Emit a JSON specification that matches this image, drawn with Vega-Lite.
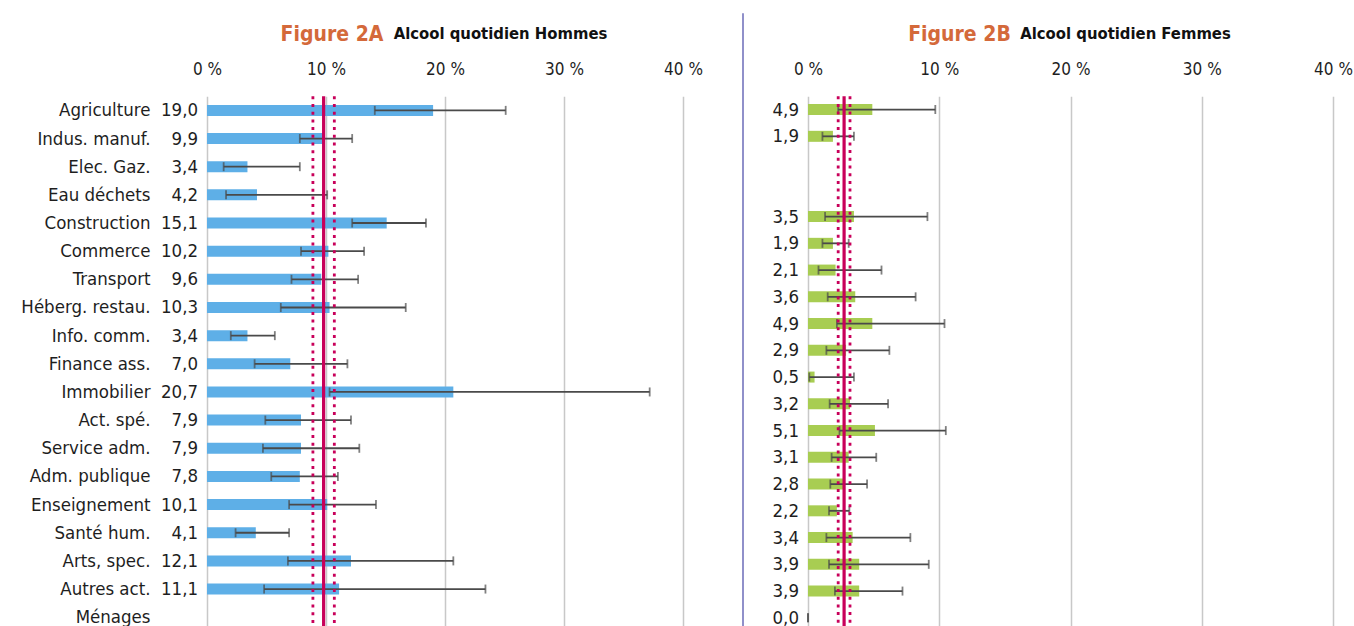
{
  "$schema": "https://vega.github.io/schema/vega-lite/v6.json",
  "background": "white",
  "padding": {"left": 20, "top": 12, "right": 0, "bottom": 0},
  "config": {
    "locale": {"number": {"decimal": ",", "thousands": " ", "grouping": [3], "currency": ["", " €"]}},
    "view": {"stroke": null},
    "font": "DejaVu Sans Condensed"
  },
  "datasets": {
    "hommes": [
      {"secteur": "Agriculture", "val": 19.0, "lo": 14.1, "hi": 25.1},
      {"secteur": "Indus. manuf.", "val": 9.9, "lo": 7.8, "hi": 12.2},
      {"secteur": "Elec. Gaz.", "val": 3.4, "lo": 1.4, "hi": 7.8},
      {"secteur": "Eau déchets", "val": 4.2, "lo": 1.6, "hi": 10.1},
      {"secteur": "Construction", "val": 15.1, "lo": 12.2, "hi": 18.4},
      {"secteur": "Commerce", "val": 10.2, "lo": 7.9, "hi": 13.2},
      {"secteur": "Transport", "val": 9.6, "lo": 7.1, "hi": 12.7},
      {"secteur": "Héberg. restau.", "val": 10.3, "lo": 6.2, "hi": 16.7},
      {"secteur": "Info. comm.", "val": 3.4, "lo": 2.0, "hi": 5.7},
      {"secteur": "Finance ass.", "val": 7.0, "lo": 4.0, "hi": 11.8},
      {"secteur": "Immobilier", "val": 20.7, "lo": 10.3, "hi": 37.2},
      {"secteur": "Act. spé.", "val": 7.9, "lo": 4.9, "hi": 12.1},
      {"secteur": "Service adm.", "val": 7.9, "lo": 4.7, "hi": 12.8},
      {"secteur": "Adm. publique", "val": 7.8, "lo": 5.4, "hi": 11.0},
      {"secteur": "Enseignement", "val": 10.1, "lo": 6.9, "hi": 14.2},
      {"secteur": "Santé hum.", "val": 4.1, "lo": 2.4, "hi": 6.9},
      {"secteur": "Arts, spec.", "val": 12.1, "lo": 6.8, "hi": 20.7},
      {"secteur": "Autres act.", "val": 11.1, "lo": 4.8, "hi": 23.4},
      {"secteur": "Ménages", "val": null, "lo": null, "hi": null}
    ],
    "femmes": [
      {"rang": 1, "val": 4.9, "lo": 2.3, "hi": 9.7},
      {"rang": 2, "val": 1.9, "lo": 1.1, "hi": 3.5},
      {"rang": 3, "val": null, "lo": null, "hi": null},
      {"rang": 4, "val": null, "lo": null, "hi": null},
      {"rang": 5, "val": 3.5, "lo": 1.3, "hi": 9.1},
      {"rang": 6, "val": 1.9, "lo": 1.1, "hi": 3.1},
      {"rang": 7, "val": 2.1, "lo": 0.8, "hi": 5.6},
      {"rang": 8, "val": 3.6, "lo": 1.5, "hi": 8.2},
      {"rang": 9, "val": 4.9, "lo": 2.2, "hi": 10.4},
      {"rang": 10, "val": 2.9, "lo": 1.4, "hi": 6.2},
      {"rang": 11, "val": 0.5, "lo": 0.1, "hi": 3.5},
      {"rang": 12, "val": 3.2, "lo": 1.65, "hi": 6.1},
      {"rang": 13, "val": 5.1, "lo": 2.4, "hi": 10.5},
      {"rang": 14, "val": 3.1, "lo": 1.8, "hi": 5.2},
      {"rang": 15, "val": 2.8, "lo": 1.7, "hi": 4.5},
      {"rang": 16, "val": 2.2, "lo": 1.6, "hi": 3.15},
      {"rang": 17, "val": 3.4, "lo": 1.4, "hi": 7.8},
      {"rang": 18, "val": 3.9, "lo": 1.6, "hi": 9.2},
      {"rang": 19, "val": 3.9, "lo": 2.05, "hi": 7.2},
      {"rang": 20, "val": 0.0, "lo": 0.0, "hi": 0.0}
    ],
    "ref_hommes": [
      {"type": "moyenne", "v": 9.8},
      {"type": "ic", "v": 8.9},
      {"type": "ic", "v": 10.7}
    ],
    "ref_femmes": [
      {"type": "moyenne", "v": 2.75},
      {"type": "ic", "v": 2.3},
      {"type": "ic", "v": 3.2}
    ],
    "sep": [{"k": 0}]
  },
  "spacing": 28,
  "center": true,
  "hconcat": [
    {
      "spacing": 39,
      "center": true,
      "hconcat": [
        {
          "vconcat": [
            {
              "width": 476,
              "height": 535,
              "title": {"text": "Figure 2A", "color": "#d4693a", "fontSize": 21, "fontWeight": "bold", "anchor": "middle", "frame": "group", "dx": -113, "dy": 20, "offset": 0},
              "layer": [
                {
                  "data": {"name": "hommes"},
                  "transform": [{"filter": "isValid(datum.val)"}],
                  "mark": {"type": "bar", "color": "#5eafe7", "size": 11},
                  "encoding": {
                    "y": {"field": "secteur", "type": "nominal", "sort": null,
                      "scale": {"domain": ["Agriculture", "Indus. manuf.", "Elec. Gaz.", "Eau déchets", "Construction", "Commerce", "Transport", "Héberg. restau.", "Info. comm.", "Finance ass.", "Immobilier", "Act. spé.", "Service adm.", "Adm. publique", "Enseignement", "Santé hum.", "Arts, spec.", "Autres act.", "Ménages"], "paddingInner": 0, "paddingOuter": 0},
                      "axis": {"orient": "left", "title": null, "domain": false, "ticks": false, "grid": false, "labelFontSize": 18.5, "labelColor": "#1e1e1e", "labelPadding": 57}},
                    "x": {"field": "val", "type": "quantitative", "title": "Alcool quotidien Hommes",
                      "scale": {"domain": [0, 40], "nice": false},
                      "axis": {"orient": "top", "values": [0, 10, 20, 30, 40], "labelExpr": "datum.value + ' %'", "labelFlush": false, "domain": false, "ticks": false, "grid": true, "gridColor": "#c8c8c8", "gridWidth": 1.5, "labelFontSize": 17, "labelColor": "#1e1e1e", "labelPadding": 18, "titleFontSize": 16.5, "titleFontWeight": "bold", "titleColor": "#111111", "titleX": 293, "titleY": -58, "titleAlign": "center", "titleBaseline": "alphabetic"}}
                  }
                },
                {
                  "data": {"name": "hommes"},
                  "transform": [{"filter": "isValid(datum.lo)"}],
                  "mark": {"type": "errorbar", "ticks": true, "color": "#4a4a4a", "thickness": 1.8, "size": 9},
                  "encoding": {
                    "y": {"field": "secteur", "type": "nominal", "sort": null},
                    "x": {"field": "lo", "type": "quantitative", "title": "Alcool quotidien Hommes"},
                    "x2": {"field": "hi"}
                  }
                },
                {
                  "data": {"name": "ref_hommes"},
                  "mark": {"type": "rule", "color": "#c8005a", "strokeCap": "butt"},
                  "encoding": {
                    "x": {"field": "v", "type": "quantitative", "title": "Alcool quotidien Hommes"},
                    "strokeDash": {"field": "type", "type": "nominal", "scale": {"domain": ["moyenne", "ic"], "range": [[1, 0], [3, 4.7]]}, "legend": null},
                    "strokeWidth": {"field": "type", "type": "nominal", "scale": {"domain": ["moyenne", "ic"], "range": [3.2, 2.8]}, "legend": null}
                  }
                },
                {
                  "data": {"name": "hommes"},
                  "transform": [{"filter": "isValid(datum.val)"}],
                  "mark": {"type": "text", "align": "right", "baseline": "middle", "dx": -9, "fontSize": 18.5, "color": "#1e1e1e"},
                  "encoding": {
                    "y": {"field": "secteur", "type": "nominal", "sort": null},
                    "x": {"datum": 0},
                    "text": {"field": "val", "type": "quantitative", "format": ".1f"}
                  }
                }
              ]
            }
          ]
        },
        {
          "width": 1,
          "height": 702,
          "data": {"name": "sep"},
          "mark": {"type": "rule", "color": "#4646a6", "strokeWidth": 1.2},
          "encoding": {
            "x": {"field": "k", "type": "quantitative", "scale": {"domain": [0, 1]}, "axis": null}
          }
        }
      ]
    },
    {
      "vconcat": [
        {
          "width": 525,
          "height": 535,
          "title": {"text": "Figure 2B", "color": "#d4693a", "fontSize": 21, "fontWeight": "bold", "anchor": "middle", "frame": "group", "dx": -111, "dy": 20, "offset": 0},
          "layer": [
            {
              "data": {"name": "femmes"},
              "transform": [{"filter": "isValid(datum.val)"}],
              "mark": {"type": "bar", "color": "#a8cd52", "size": 11},
              "encoding": {
                "y": {"field": "rang", "type": "ordinal", "sort": null,
                  "scale": {"domain": [1, 2, 3, 4, 5, 6, 7, 8, 9, 10, 11, 12, 13, 14, 15, 16, 17, 18, 19, 20], "paddingInner": 0, "paddingOuter": 0},
                  "axis": null},
                "x": {"field": "val", "type": "quantitative", "title": "Alcool quotidien Femmes",
                  "scale": {"domain": [0, 40], "nice": false},
                  "axis": {"orient": "top", "values": [0, 10, 20, 30, 40], "labelExpr": "datum.value + ' %'", "labelFlush": false, "domain": false, "ticks": false, "grid": true, "gridColor": "#c8c8c8", "gridWidth": 1.5, "labelFontSize": 17, "labelColor": "#1e1e1e", "labelPadding": 18, "titleFontSize": 16.5, "titleFontWeight": "bold", "titleColor": "#111111", "titleX": 317, "titleY": -58, "titleAlign": "center", "titleBaseline": "alphabetic"}}
              }
            },
            {
              "data": {"name": "femmes"},
              "transform": [{"filter": "isValid(datum.lo)"}],
              "mark": {"type": "errorbar", "ticks": true, "color": "#4a4a4a", "thickness": 1.8, "size": 9},
              "encoding": {
                "y": {"field": "rang", "type": "ordinal", "sort": null},
                "x": {"field": "lo", "type": "quantitative", "title": "Alcool quotidien Femmes"},
                "x2": {"field": "hi"}
              }
            },
            {
              "data": {"name": "ref_femmes"},
              "mark": {"type": "rule", "color": "#c8005a", "strokeCap": "butt"},
              "encoding": {
                "x": {"field": "v", "type": "quantitative", "title": "Alcool quotidien Femmes"},
                "strokeDash": {"field": "type", "type": "nominal", "scale": {"domain": ["moyenne", "ic"], "range": [[1, 0], [3, 4.7]]}, "legend": null},
                "strokeWidth": {"field": "type", "type": "nominal", "scale": {"domain": ["moyenne", "ic"], "range": [3.2, 2.8]}, "legend": null}
              }
            },
            {
              "data": {"name": "femmes"},
              "transform": [{"filter": "isValid(datum.val)"}],
              "mark": {"type": "text", "align": "right", "baseline": "middle", "dx": -9, "fontSize": 18.5, "color": "#1e1e1e"},
              "encoding": {
                "y": {"field": "rang", "type": "ordinal", "sort": null},
                "x": {"datum": 0},
                "text": {"field": "val", "type": "quantitative", "format": ".1f"}
              }
            }
          ]
        }
      ]
    }
  ]
}
